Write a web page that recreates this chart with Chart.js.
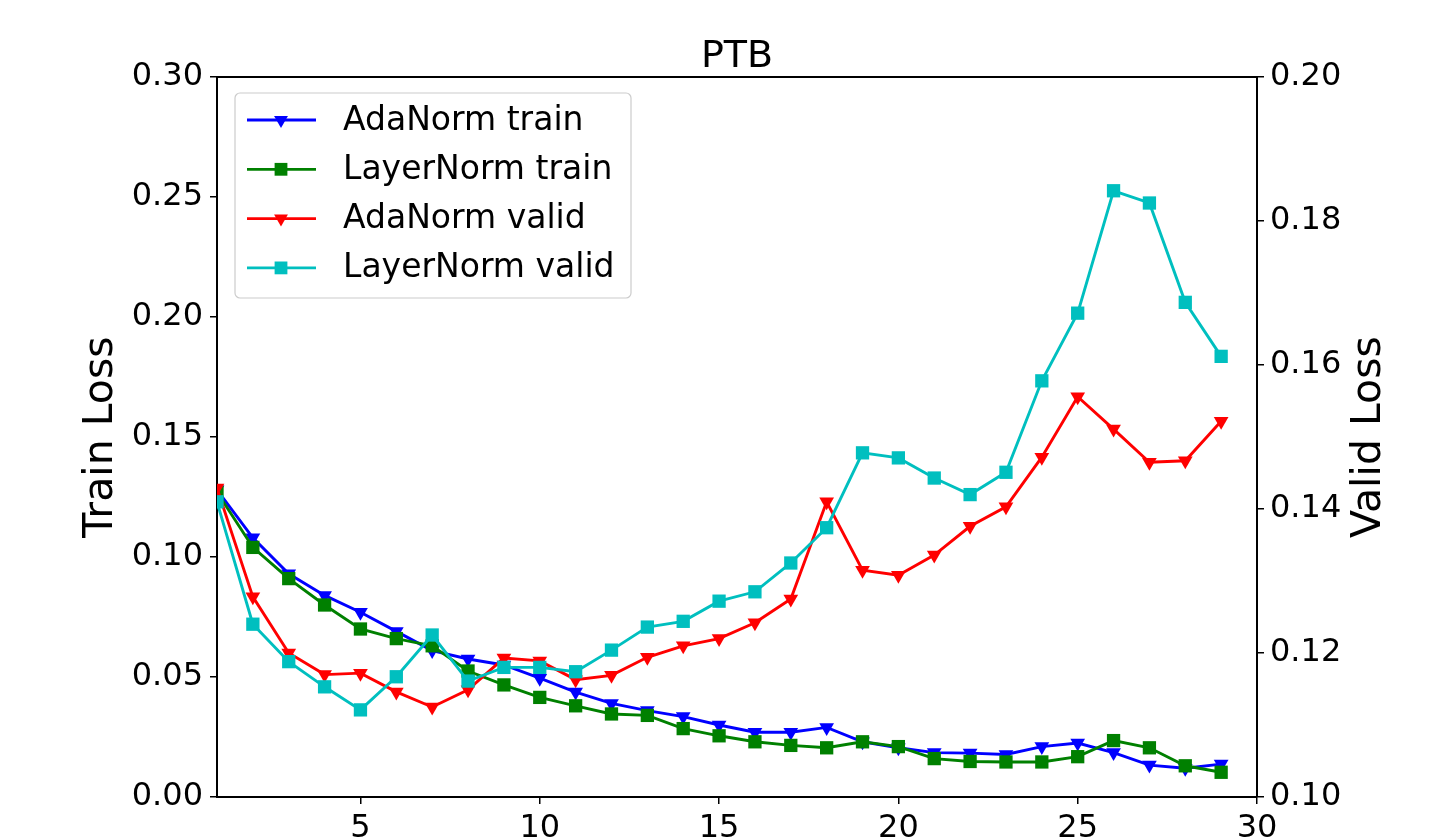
<!DOCTYPE html>
<html>
<head>
<meta charset="utf-8">
<script src="https://cdn.jsdelivr.net/npm/chart.js@4.4.0/dist/chart.umd.min.js"></script>
<style>
  body { margin: 0; background: #fff; }
  #wrap { width: 1430px; height: 837px; }
</style>
</head>
<body>
<div id="wrap"><canvas id="chart" width="1430" height="837"></canvas></div>
<script>
// epochs 1..29
const epochs = [1, 2, 3, 4, 5, 6, 7, 8, 9, 10, 11, 12, 13, 14, 15, 16, 17, 18, 19, 20, 21, 22, 23, 24, 25, 26, 27, 28, 29]

const adaTrain = [0.128, 0.108, 0.093, 0.084, 0.077, 0.069, 0.061, 0.0575, 0.055, 0.0495, 0.0437, 0.039, 0.036, 0.0335, 0.030, 0.027, 0.027, 0.029, 0.023, 0.0205, 0.0185, 0.0183, 0.0177, 0.021, 0.0225, 0.0185, 0.0133, 0.012, 0.0137]
const lnTrain = [0.127, 0.104, 0.091, 0.080, 0.070, 0.066, 0.063, 0.0525, 0.0467, 0.0415, 0.038, 0.0346, 0.034, 0.0285, 0.0255, 0.023, 0.0215, 0.0205, 0.023, 0.021, 0.016, 0.0148, 0.0146, 0.0146, 0.0168, 0.0235, 0.0205, 0.013, 0.0103]
const adaValid = [0.1429, 0.1278, 0.120, 0.117, 0.1172, 0.1146, 0.1125, 0.1149, 0.1193, 0.1189, 0.1163, 0.1169, 0.1194, 0.121, 0.122, 0.1242, 0.1275, 0.141, 0.1315, 0.1308, 0.1336, 0.1376, 0.1403, 0.1472, 0.1556, 0.1511, 0.1465, 0.1467, 0.1522]
const lnValid = [0.141, 0.124, 0.1188, 0.1153, 0.1121, 0.1167, 0.1225, 0.1161, 0.118, 0.118, 0.1174, 0.1204, 0.1236, 0.1244, 0.1272, 0.1285, 0.1325, 0.1374, 0.1478, 0.1471, 0.1443, 0.142, 0.1451, 0.1578, 0.1672, 0.1842, 0.1825, 0.1687, 0.1612]

const xTicks = [5, 10, 15, 20, 25, 30]
const trainTicks = [0, 0.05, 0.10, 0.15, 0.20, 0.25, 0.30]
const validTicks = [0.10, 0.12, 0.14, 0.16, 0.18, 0.20]

const FONT = 'DejaVu Sans'

function pts(ys) {
  return ys.map((y, i) => ({ x: epochs[i], y: y }))
}

function series(label, ys, color, marker, axis, order) {
  const r = marker === 'v' ? 8.5 : 9.4
  return {
    label: label,
    data: pts(ys),
    borderColor: color,
    backgroundColor: color,
    borderWidth: 2.9,
    pointStyle: marker === 'v' ? 'triangle' : 'rect',
    pointRotation: marker === 'v' ? 180 : 0,
    pointRadius: r,
    pointHoverRadius: r,
    pointBorderWidth: 0,
    tension: 0,
    yAxisID: axis,
    order: order,
    clip: 0,
    marker: marker,
  }
}

function setTicks(list) {
  return function (scale) {
    scale.ticks = list.map((v) => ({ value: v }))
  }
}

const axisStyle = {
  grid: { drawOnChartArea: false, color: '#000', lineWidth: 1.5, tickLength: 7 },
  border: { color: '#000', width: 2 },
}

// legend drawn inside the plot, matplotlib-like
const innerLegend = {
  id: 'innerLegend',
  afterDraw(chart) {
    const ctx = chart.ctx
    const a = chart.chartArea
    const x = a.left + 18
    const y = a.top + 16
    const w = 396
    const h = 205
    ctx.save()
    ctx.beginPath()
    ctx.roundRect(x, y, w, h, 5)
    ctx.fillStyle = 'rgba(255,255,255,0.8)'
    ctx.fill()
    ctx.strokeStyle = '#cccccc'
    ctx.lineWidth = 1.2
    ctx.stroke()
    chart.data.datasets.forEach((ds, i) => {
      const cy = y + 27 + i * 49.3
      ctx.strokeStyle = ds.borderColor
      ctx.lineWidth = 2.8
      ctx.beginPath()
      ctx.moveTo(x + 12, cy)
      ctx.lineTo(x + 81, cy)
      ctx.stroke()
      ctx.fillStyle = ds.borderColor
      const mx = x + 46
      ctx.beginPath()
      if (ds.marker === 'v') {
        const r = 8
        ctx.moveTo(mx, cy + r)
        ctx.lineTo(mx - r * 0.866, cy - r / 2)
        ctx.lineTo(mx + r * 0.866, cy - r / 2)
        ctx.closePath()
      } else {
        const s = 6.4
        ctx.rect(mx - s, cy - s, 2 * s, 2 * s)
      }
      ctx.fill()
      ctx.fillStyle = '#000'
      ctx.font = '33px ' + FONT
      ctx.textBaseline = 'middle'
      ctx.textAlign = 'left'
      ctx.fillText(ds.label, x + 108, cy + 1)
    })
    ctx.restore()
  },
}

// top spine, title over the plot area, right-hand axis title (bottom to top)
const frame = {
  id: 'frame',
  afterDraw(chart) {
    const ctx = chart.ctx
    const a = chart.chartArea
    ctx.save()
    ctx.strokeStyle = '#000'
    ctx.lineWidth = 2
    ctx.beginPath()
    ctx.moveTo(a.left - 1, a.top)
    ctx.lineTo(a.right + 1, a.top)
    ctx.stroke()

    ctx.fillStyle = '#000'
    ctx.font = '38px ' + FONT
    ctx.textAlign = 'center'
    ctx.textBaseline = 'alphabetic'
    ctx.fillText('PTB', (a.left + a.right) / 2, 67)

    ctx.translate(1369, (a.top + a.bottom) / 2)
    ctx.rotate(-Math.PI / 2)
    ctx.font = '41px ' + FONT
    ctx.textBaseline = 'middle'
    ctx.fillText('Valid Loss', 0, 0)
    ctx.restore()
  },
}

const ctx = document.getElementById('chart').getContext('2d')
const chart = new Chart(ctx, {
  type: 'line',
  data: {
    datasets: [
      series('AdaNorm train', adaTrain, '#0000ff', 'v', 'y', 3),
      series('LayerNorm train', lnTrain, '#008000', 's', 'y', 2),
      series('AdaNorm valid', adaValid, '#ff0000', 'v', 'y2', 1),
      series('LayerNorm valid', lnValid, '#00bfbf', 's', 'y2', 0),
    ],
  },
  options: {
    responsive: false,
    animation: false,
    devicePixelRatio: 1,
    layout: { padding: { top: 77, left: 0, right: 0, bottom: 0 } },
    plugins: {
      legend: { display: false },
      tooltip: { enabled: false },
      title: { display: false },
    },
    scales: {
      x: {
        type: 'linear',
        position: 'bottom',
        min: 1,
        max: 30,
        afterBuildTicks: setTicks(xTicks),
        afterFit: (s) => { s.height = 40 },
        ticks: { color: '#000', font: { family: FONT, size: 32 }, padding: 5, maxRotation: 0, autoSkip: false },
        ...axisStyle,
      },
      y: {
        type: 'linear',
        position: 'left',
        min: 0,
        max: 0.3,
        afterBuildTicks: setTicks(trainTicks),
        afterFit: (s) => { s.width = 217 },
        ticks: { color: '#000', font: { family: FONT, size: 32 }, padding: 7, callback: (v) => v.toFixed(2) },
        title: {
          display: true,
          text: 'Train Loss',
          color: '#000',
          font: { family: FONT, size: 41, lineHeight: 1.2 },
          padding: { top: 77, bottom: 0 },
        },
        ...axisStyle,
      },
      y2: {
        type: 'linear',
        position: 'right',
        min: 0.1,
        max: 0.2,
        afterBuildTicks: setTicks(validTicks),
        afterFit: (s) => { s.width = 173 },
        ticks: { color: '#000', font: { family: FONT, size: 32 }, padding: 6, callback: (v) => v.toFixed(2) },
        ...axisStyle,
      },
    },
  },
  plugins: [innerLegend, frame],
})
</script>
</body>
</html>
